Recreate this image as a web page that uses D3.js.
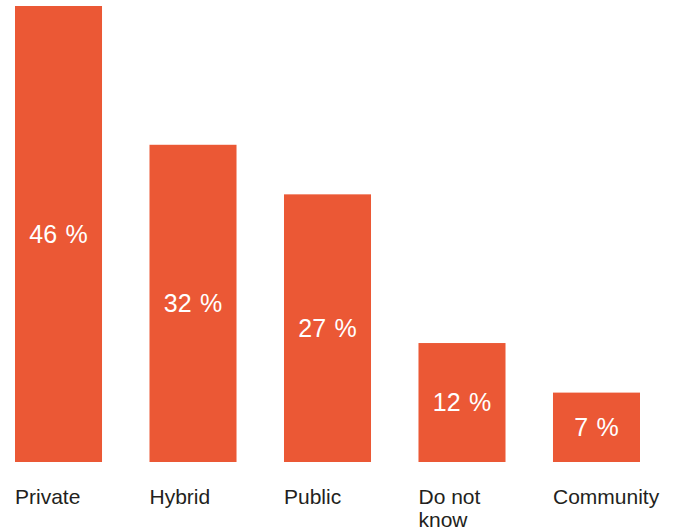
<!DOCTYPE html>
<html lang="en">
<head>
<meta charset="UTF-8">
<title>Bar chart</title>
<style>
  * { margin: 0; padding: 0; }
  body { background: #fff; font-family: 'Liberation Sans', Arial, Helvetica, sans-serif; }
  svg { display: block; }
</style>
</head>
<body>
<svg width="681" height="531"></svg>
<script src="https://cdn.jsdelivr.net/npm/d3@7/dist/d3.min.js"></script>
<script>
// Data
const categories = ['Private', 'Hybrid', 'Public', 'Do not know', 'Community'];
const labelLines = [['Private'], ['Hybrid'], ['Public'], ['Do not', 'know'], ['Community']];
const values = [46, 32, 27, 12, 7];

const barColor = '#eb5835';

const svg = d3.select('svg');

const x = d3.scaleBand()
  .domain(categories)
  .range([15, 640])
  .paddingInner(0.353)
  .paddingOuter(0)
  .align(0);

const y = d3.scaleLinear()
  .domain([0, 46])
  .range([462, 6]);

const data = categories.map((c, i) => ({ cat: c, value: values[i], lines: labelLines[i] }));

// Bars
svg.append('g')
  .selectAll('rect')
  .data(data)
  .join('rect')
  .attr('x', d => x(d.cat))
  .attr('y', d => y(d.value))
  .attr('width', x.bandwidth())
  .attr('height', d => y(0) - y(d.value))
  .attr('fill', barColor);

// Value labels, centred in bars
svg.append('g')
  .selectAll('text')
  .data(data)
  .join('text')
  .attr('x', d => x(d.cat) + x.bandwidth() / 2)
  .attr('y', d => (y(d.value) + y(0)) / 2)
  .attr('dy', '0.35em')
  .attr('text-anchor', 'middle')
  .attr('fill', '#fff')
  .attr('font-size', 25)
  .attr('word-spacing', 1.5)
  .text(d => d.value + ' %');

// Category labels, left aligned under bars
const cat = svg.append('g')
  .selectAll('text')
  .data(data)
  .join('text')
  .attr('x', d => x(d.cat))
  .attr('y', 504)
  .attr('fill', '#231f20')
  .attr('font-size', 21);

cat.selectAll('tspan')
  .data(d => d.lines.map(l => ({ l, x: x(d.cat) })))
  .join('tspan')
  .attr('x', d => d.x)
  .attr('dy', (d, i) => i === 0 ? 0 : 23)
  .text(d => d.l);
</script>
</body>
</html>
